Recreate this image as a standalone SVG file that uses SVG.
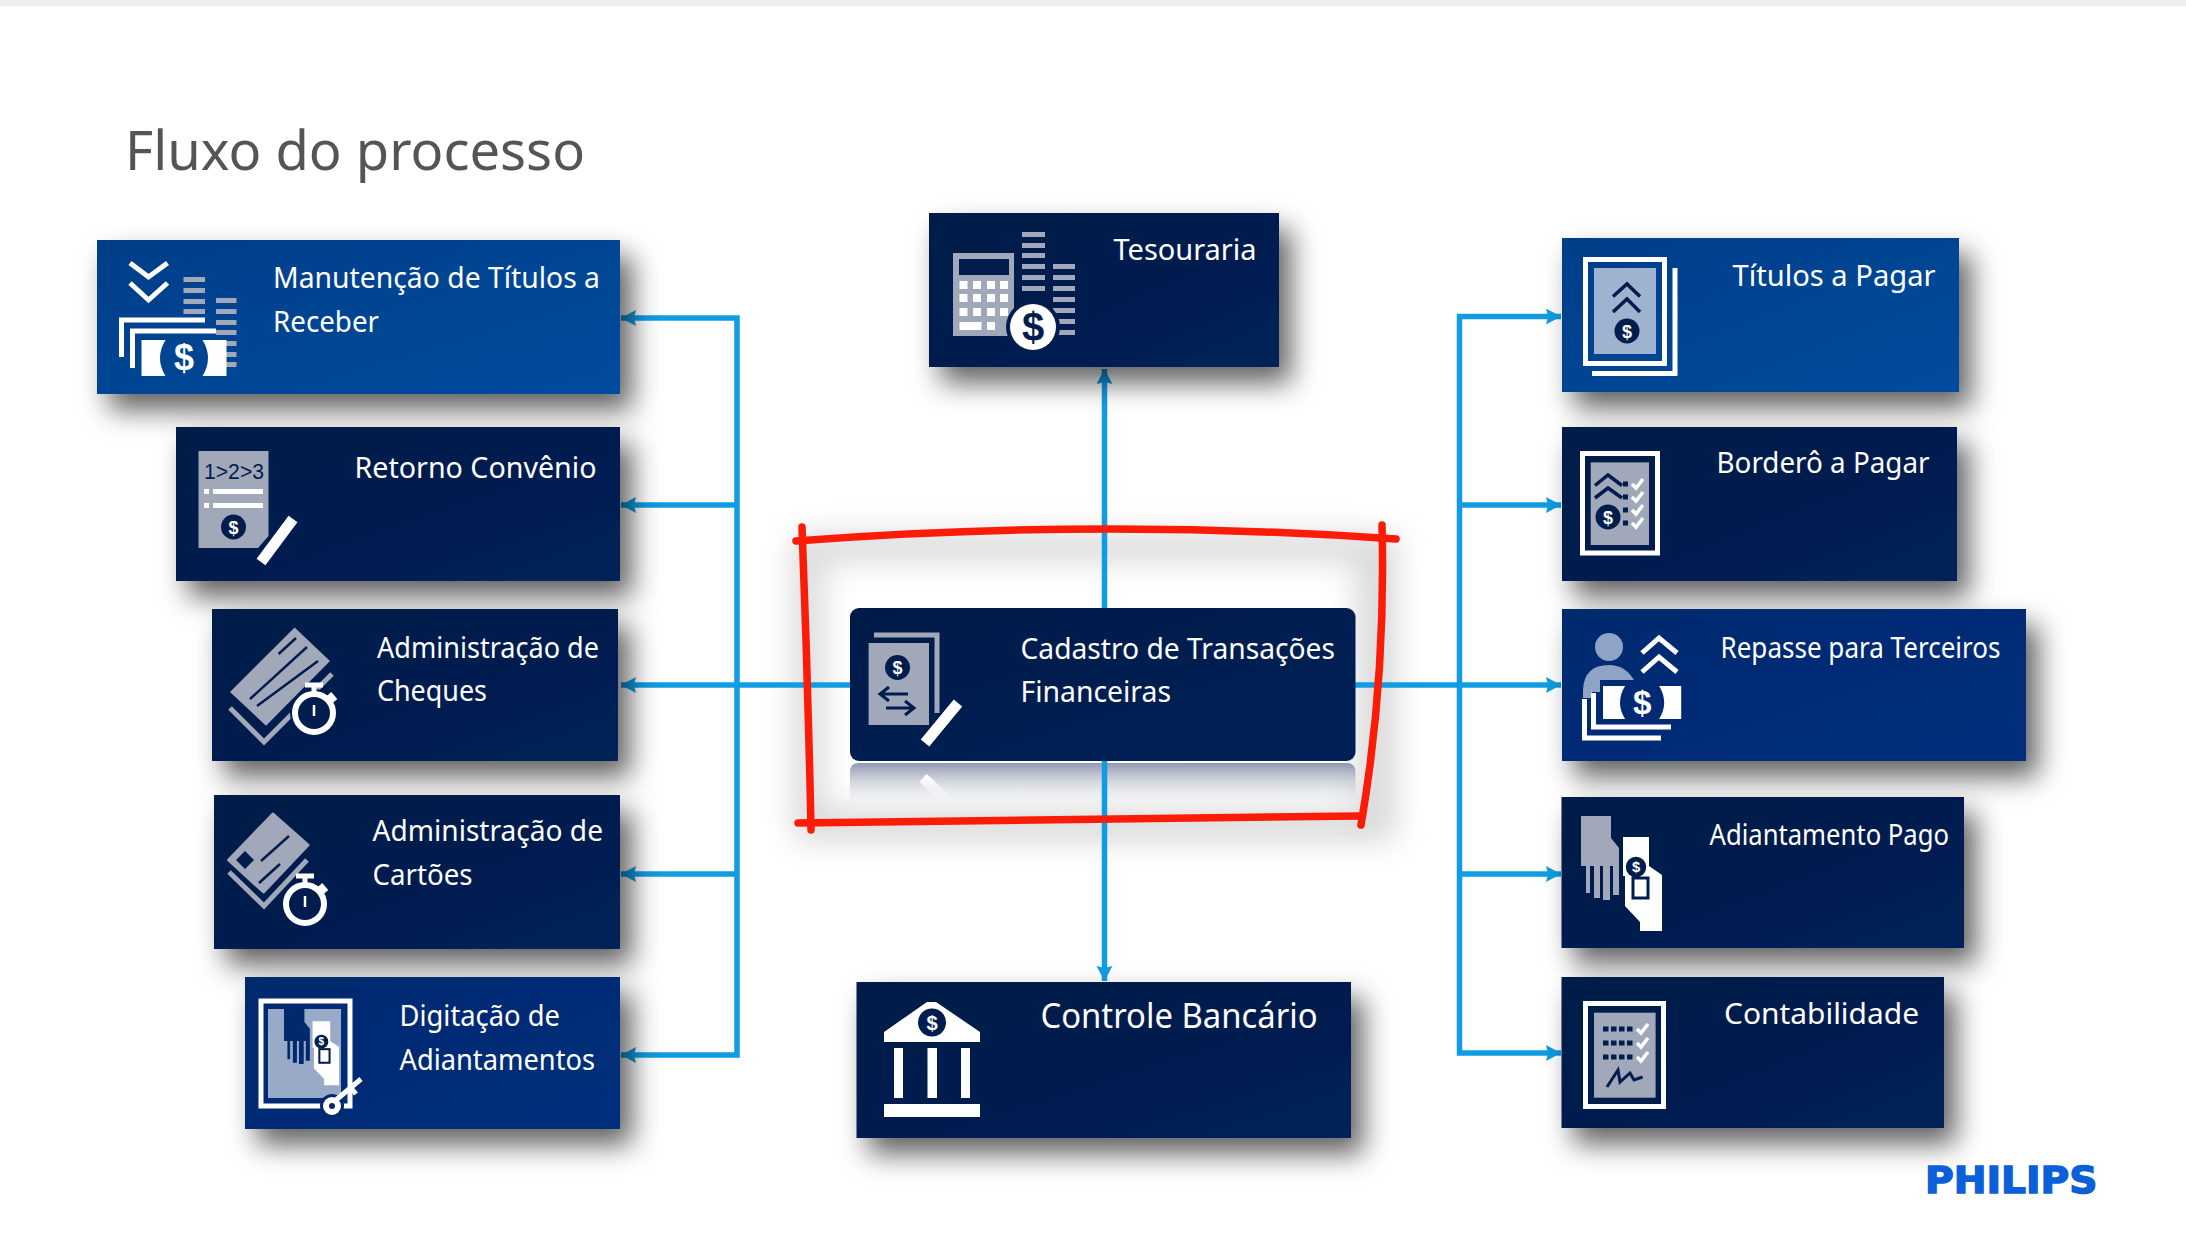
<svg xmlns="http://www.w3.org/2000/svg" xmlns:xlink="http://www.w3.org/1999/xlink" width="2186" height="1238" viewBox="0 0 2186 1238">
<style>
.t{font-family:"Noto Sans","Open Sans",sans-serif;font-size:29px;fill:#fff}
.d{font-family:"Liberation Sans",Arial,sans-serif;font-weight:700;text-anchor:middle}
.c{fill:none;stroke:#109ce2;stroke-width:5.5}
.wl{fill:none;stroke:#fff;stroke-width:5}
.dl{fill:none;stroke:#001d4d;stroke-width:3.5}
.g{fill:#a0a8ba}
.w{fill:#fff}
.k{fill:#001d4d}
.bar{fill:#a0a8ba}
</style>
<defs>
<linearGradient id="gd" x1="0" x2="1" y1="0" y2="1"><stop offset="0" stop-color="#001a47"/><stop offset="1" stop-color="#002158"/></linearGradient>
<linearGradient id="gb" x1="0" x2="1" y1="0" y2="1"><stop offset="0" stop-color="#003e88"/><stop offset="1" stop-color="#004c9e"/></linearGradient>
<linearGradient id="gm" x1="0" x2="1" y1="0" y2="1"><stop offset="0" stop-color="#00296e"/><stop offset="1" stop-color="#002f7c"/></linearGradient>
<linearGradient id="rf" x1="0" x2="0" y1="0" y2="1"><stop offset="0" stop-color="#8a93aa" stop-opacity=".95"/><stop offset="1" stop-color="#fff" stop-opacity="0"/></linearGradient>
<linearGradient id="rp" x1="0" x2="0" y1="0" y2="1"><stop offset="0" stop-color="#fff"/><stop offset="1" stop-color="#fff" stop-opacity="0"/></linearGradient>
<filter id="sh" x="-20%" y="-35%" width="150%" height="190%"><feDropShadow dx="12" dy="16" stdDeviation="14" flood-color="#000" flood-opacity=".62"/></filter>
<filter id="bl" x="-20%" y="-30%" width="140%" height="160%"><feGaussianBlur stdDeviation="16"/></filter>
<marker id="ah" markerUnits="userSpaceOnUse" markerWidth="18" markerHeight="18" refX="15" refY="8" orient="auto"><path d="M0 0L15 8L0 16L2 8Z" fill="#109ce2"/></marker>
<g id="coin"><circle r="12.5" fill="#001d4d"/><text class="d" y="6.500" font-size="18" fill="#fff">$</text></g>
<g id="bill"><path class="w" d="M0 0H24Q13 18 24 36H0ZM61 0Q72 18 61 36H85V0Z"/><text class="d" x="42.500" y="30" font-size="36" fill="#fff">$</text></g>
<g id="watch"><circle r="19" fill="none" stroke="#fff" stroke-width="6"/><path class="wl" d="M0 -21V-27M-9 -28H9"/><path d="M15 -19L21 -12" fill="none" stroke="#fff" stroke-width="6"/><path d="M0 -8V3" fill="none" stroke="#fff" stroke-width="2.500"/></g>
<g id="hands"><path d="M0 0H30V22L38 32V79H32V50H29V84H22V50H19V82H13V50H9V77H5V50H0Z"/><path class="w" d="M42 21H68V50L81 59V115H59V106L44 90V60H42Z"/><rect x="52" y="62" width="15" height="20" fill="none" stroke="#001d4d" stroke-width="3"/><use xlink:href="#coin" href="#coin" transform="translate(55 51) scale(.82)"/></g>
<path id="chk" d="M0 5L4 9L11 0" fill="none" stroke="#fff" stroke-width="3.500"/>
</defs>
<rect width="2186" height="1238" fill="#fff"/>
<rect width="2186" height="6" fill="#efefef"/>
<text id="title" x="125" y="170" textLength="460" lengthAdjust="spacingAndGlyphs" font-family="Noto Sans, Open Sans, sans-serif" font-size="54" fill="#555">Fluxo do processo</text>

<g id="highlight-glow"><rect x="795" y="535" width="600" height="305" fill="#d6d6d6" filter="url(#bl)"/><rect x="822" y="560" width="536" height="250" fill="#fff" filter="url(#bl)"/></g>

<g id="cadastro-reflection">
<rect x="850" y="763" width="505.500" height="50" rx="8" fill="url(#rf)"/>
<path d="M923 778L947 800" fill="none" stroke="url(#rp)" stroke-width="11"/>
</g>

<g id="connectors">
<path class="c" marker-end="url(#ah)" d="M850 685H621"/>
<path class="c" marker-end="url(#ah)" d="M737 685V318H621"/>
<path class="c" marker-end="url(#ah)" d="M737 505H621"/>
<path class="c" marker-end="url(#ah)" d="M737 874H621"/>
<path class="c" marker-end="url(#ah)" d="M737 685V1055H621"/>
<path class="c" marker-end="url(#ah)" d="M1104.500 608V369"/>
<path class="c" marker-end="url(#ah)" d="M1104.500 761V981"/>
<path class="c" marker-end="url(#ah)" d="M1355 685H1561"/>
<path class="c" marker-end="url(#ah)" d="M1459.500 685V316.500H1561"/>
<path class="c" marker-end="url(#ah)" d="M1459.500 505H1561"/>
<path class="c" marker-end="url(#ah)" d="M1459.500 874H1561"/>
<path class="c" marker-end="url(#ah)" d="M1459.500 685V1053H1561"/>
</g>

<g id="node-manutencao">
<rect x="97" y="240" width="523" height="154" fill="url(#gb)" filter="url(#sh)"/>
<path class="wl" d="M130 263L148.500 277L167.500 263M130 283L148.500 300L167.500 283"/>
<g class="bar"><rect x="183.500" y="277" width="21.500" height="5"/><rect x="183.500" y="288" width="21.500" height="5"/><rect x="183.500" y="299" width="21.500" height="5"/><rect x="183.500" y="309" width="21.500" height="5"/><rect x="216" y="298" width="20.500" height="5"/><rect x="216" y="309" width="20.500" height="5"/><rect x="216" y="320" width="20.500" height="5"/><rect x="216" y="330" width="20.500" height="5"/><rect x="216" y="341" width="20.500" height="5"/><rect x="216" y="352" width="20.500" height="5"/><rect x="216" y="362" width="20.500" height="5"/></g>
<path class="wl" d="M121.500 357V320H205M132.500 368V331H216"/>
<use xlink:href="#bill" href="#bill" x="141.500" y="340"/>
<text class="t" x="273" y="288" textLength="327" lengthAdjust="spacingAndGlyphs">Manutenção de Títulos a</text>
<text class="t" x="273" y="332" textLength="106" lengthAdjust="spacingAndGlyphs">Receber</text>
</g>

<g id="node-retorno">
<rect x="176" y="427" width="444" height="154" fill="url(#gd)" filter="url(#sh)"/>
<path class="g" d="M198.500 451H268.500V536L258 548H198.500Z"/>
<text x="234" y="479" text-anchor="middle" textLength="60" lengthAdjust="spacingAndGlyphs" font-family="Liberation Sans, sans-serif" font-size="22" fill="#001d4d">1&gt;2&gt;3</text>
<rect class="w" x="204" y="489" width="5" height="5"/><rect class="w" x="213" y="489" width="50" height="5"/><rect class="w" x="204" y="503" width="5" height="5"/><rect class="w" x="213" y="503" width="50" height="5"/>
<use xlink:href="#coin" href="#coin" x="233.500" y="527"/>
<path d="M293 519L261 562" fill="none" stroke="#fff" stroke-width="11"/>
<text class="t" x="354.500" y="478" textLength="242" lengthAdjust="spacingAndGlyphs">Retorno Convênio</text>
</g>

<g id="node-cheques">
<rect x="212" y="609" width="406" height="152" fill="url(#gd)" filter="url(#sh)"/>
<path d="M230 708L264 742L332 674" fill="none" stroke="#a0a8ba" stroke-width="5"/>
<path class="g" d="M294.600 627.500L330 661L266 725.700L230 692Z"/>
<path class="dl" style="stroke-width:2.500px" d="M278.600 654L296 638M250 699L307 647M257 706L318 661"/>
<circle cx="314" cy="713" r="24" fill="#001d4d"/>
<use xlink:href="#watch" href="#watch" x="314" y="713"/>
<text class="t" x="377" y="658" textLength="222" lengthAdjust="spacingAndGlyphs">Administração de</text>
<text class="t" x="377" y="701" textLength="110" lengthAdjust="spacingAndGlyphs">Cheques</text>
</g>

<g id="node-cartoes">
<rect x="214" y="795" width="406" height="154" fill="url(#gd)" filter="url(#sh)"/>
<path d="M229 872L264 906L307 860" fill="none" stroke="#a0a8ba" stroke-width="5"/>
<path class="g" d="M273 814L308 845L263.500 892L228.600 860Z" stroke="#a0a8ba" stroke-width="3" stroke-linejoin="round"/>
<path class="k" d="M245 851L254 860L245 869L236 860Z"/>
<path class="dl" style="stroke-width:2.500px" d="M261 861L289 836M259 883L280 864"/>
<circle cx="305" cy="904" r="25" fill="#001d4d"/>
<use xlink:href="#watch" href="#watch" x="305" y="904"/>
<text class="t" x="372.500" y="841" textLength="230.500" lengthAdjust="spacingAndGlyphs">Administração de</text>
<text class="t" x="372.500" y="885" textLength="100" lengthAdjust="spacingAndGlyphs">Cartões</text>
</g>

<g id="node-digitacao">
<rect x="245" y="977" width="375" height="152" fill="url(#gm)" filter="url(#sh)"/>
<rect x="261" y="1001" width="89" height="105" fill="none" stroke="#fff" stroke-width="5"/>
<rect x="268" y="1009" width="73" height="89" fill="#99a9c8"/>
<use xlink:href="#hands" href="#hands" transform="translate(284 1007) scale(.68)" fill="#00296e"/>
<circle cx="332" cy="1106" r="12" fill="#00296e"/>
<circle class="w" cx="332" cy="1106" r="9"/><circle cx="332" cy="1106" r="3" fill="#00296e"/>
<path d="M336 1100L361 1079M351 1088L356 1094" fill="none" stroke="#fff" stroke-width="5"/>
<text class="t" x="399.500" y="1026" textLength="160.500" lengthAdjust="spacingAndGlyphs">Digitação de</text>
<text class="t" x="399.500" y="1070" textLength="195.500" lengthAdjust="spacingAndGlyphs">Adiantamentos</text>
</g>

<g id="node-tesouraria">
<rect x="929" y="213" width="350" height="154" fill="url(#gd)" filter="url(#sh)"/>
<g class="bar"><rect x="1022" y="232" width="23" height="5"/><rect x="1022" y="243" width="23" height="5"/><rect x="1022" y="253" width="23" height="5"/><rect x="1022" y="264" width="23" height="5"/><rect x="1022" y="275" width="23" height="5"/><rect x="1022" y="286" width="23" height="5"/><rect x="1053" y="264" width="22" height="5"/><rect x="1053" y="275" width="22" height="5"/><rect x="1053" y="286" width="22" height="5"/><rect x="1053" y="297" width="22" height="5"/><rect x="1053" y="308" width="22" height="5"/><rect x="1053" y="319" width="22" height="5"/><rect x="1053" y="330" width="22" height="5"/></g>
<rect class="g" x="953" y="253" width="61" height="83"/>
<rect class="k" x="959" y="259" width="50" height="16"/>
<g class="w"><rect x="959.500" y="281" width="8" height="8"/><rect x="973" y="281" width="8" height="8"/><rect x="987" y="281" width="8" height="8"/><rect x="1000" y="281" width="8" height="8"/><rect x="959.500" y="294" width="8" height="8"/><rect x="973" y="294" width="8" height="8"/><rect x="987" y="294" width="8" height="8"/><rect x="1000" y="294" width="8" height="8"/><rect x="959.500" y="308" width="8" height="8"/><rect x="973" y="308" width="8" height="8"/><rect x="987" y="308" width="8" height="8"/><rect x="1000" y="308" width="8" height="8"/><rect x="959.500" y="322" width="22" height="8"/><rect x="987" y="322" width="8" height="8"/></g>
<circle cx="1033" cy="327" r="27" fill="#001d4d"/><circle class="w" cx="1033" cy="327" r="23"/>
<text class="d" x="1033" y="341" font-size="40" fill="#001d4d">$</text>
<text class="t" x="1113.500" y="260" textLength="143" lengthAdjust="spacingAndGlyphs">Tesouraria</text>
</g>

<g id="node-cadastro">
<rect x="850" y="608" width="505.500" height="153" rx="9" fill="url(#gd)"/>
<path d="M874 635H937V713" fill="none" stroke="#a0a8ba" stroke-width="5"/>
<rect class="g" x="868.600" y="643" width="60.400" height="82"/>
<use xlink:href="#coin" href="#coin" x="897.500" y="667.500"/>
<path d="M889 687L880 694L889 701M880 694H908M905 701L914 708L905 715M886 708H914" fill="none" stroke="#001d4d" stroke-width="3"/>
<path d="M958 703L925 743" fill="none" stroke="#fff" stroke-width="11"/>
<text class="t" x="1020.500" y="659" textLength="314.500" lengthAdjust="spacingAndGlyphs">Cadastro de Transações</text>
<text class="t" x="1020.500" y="702" textLength="150.500" lengthAdjust="spacingAndGlyphs">Financeiras</text>
</g>

<g id="node-controle">
<rect x="856.500" y="982" width="494.500" height="156" fill="url(#gd)" filter="url(#sh)"/>
<path class="w" d="M884 1032L927 1002H936L980 1032V1042H884Z"/>
<use xlink:href="#coin" href="#coin" transform="translate(932 1022.500) scale(1.12)"/>
<rect class="w" x="894" y="1048" width="9" height="50"/><rect class="w" x="927.500" y="1048" width="9.500" height="50"/><rect class="w" x="961" y="1048" width="9" height="50"/><rect class="w" x="884" y="1104" width="96" height="13"/>
<text class="t" x="1040.500" y="1028" style="font-size:34px" textLength="277" lengthAdjust="spacingAndGlyphs">Controle Bancário</text>
</g>

<g id="node-titulos">
<rect x="1562" y="238" width="397" height="154" fill="url(#gb)" filter="url(#sh)"/>
<rect x="1585.500" y="259.500" width="79" height="104" fill="none" stroke="#fff" stroke-width="5"/>
<rect x="1594" y="268" width="62" height="86" fill="#9fb3d1"/>
<path class="wl" d="M1592 373.500H1675V268"/>
<path class="dl" d="M1613 296.500L1627 284L1640 296.500M1613 312L1627 299L1640 312"/>
<use xlink:href="#coin" href="#coin" x="1627" y="331"/>
<text class="t" x="1732.500" y="285.500" textLength="203" lengthAdjust="spacingAndGlyphs">Títulos a Pagar</text>
</g>

<g id="node-bordero">
<rect x="1562" y="427" width="395" height="154" fill="url(#gd)" filter="url(#sh)"/>
<rect x="1582.500" y="453.500" width="75" height="99.500" fill="none" stroke="#fff" stroke-width="5"/>
<rect class="g" x="1590.700" y="462.400" width="58.300" height="82.600"/>
<path class="dl" d="M1595 485.500L1608 475L1622 485.500M1595 498L1608 488L1622 498"/>
<use xlink:href="#coin" href="#coin" x="1608" y="517"/>
<g class="k"><rect x="1623" y="481.500" width="5" height="5"/><rect x="1623" y="494.500" width="5" height="5"/><rect x="1623" y="507.500" width="5" height="5"/><rect x="1623" y="520.500" width="5" height="5"/></g>
<use xlink:href="#chk" href="#chk" x="1632" y="479"/><use xlink:href="#chk" href="#chk" x="1632" y="492"/><use xlink:href="#chk" href="#chk" x="1632" y="505"/><use xlink:href="#chk" href="#chk" x="1632" y="518"/>
<text class="t" x="1716.500" y="473" textLength="213" lengthAdjust="spacingAndGlyphs">Borderô a Pagar</text>
</g>

<g id="node-repasse">
<rect x="1562" y="609" width="464" height="152" fill="url(#gm)" filter="url(#sh)"/>
<circle cx="1609" cy="647" r="14" fill="#8ea3c5"/>
<path fill="#8ea3c5" d="M1583 698V690Q1584 665 1609 665Q1625 665 1634 680H1600V692H1592V698Z"/>
<path class="wl" d="M1642 653L1659 638L1677 653M1642 672L1659 657L1677 672"/>
<path class="wl" d="M1593.500 693V727H1671M1584.500 699V738H1661"/>
<use xlink:href="#bill" href="#bill" transform="translate(1603 686) scale(.92)"/>
<text class="t" x="1720.500" y="657.500" textLength="280" lengthAdjust="spacingAndGlyphs">Repasse para Terceiros</text>
</g>

<g id="node-adiantamento">
<rect x="1561.500" y="797" width="402.500" height="151" fill="url(#gd)" filter="url(#sh)"/>
<use xlink:href="#hands" href="#hands" x="1581" y="816" fill="#a0a8ba"/>
<text class="t" x="1709.500" y="845" textLength="239.500" lengthAdjust="spacingAndGlyphs">Adiantamento Pago</text>
</g>

<g id="node-contabilidade">
<rect x="1561.500" y="977" width="382.500" height="151" fill="url(#gd)" filter="url(#sh)"/>
<rect x="1585.500" y="1003.500" width="78" height="103" fill="none" stroke="#fff" stroke-width="5"/>
<rect class="g" x="1594" y="1012.700" width="61.600" height="85"/>
<path d="M1603 1029H1634M1603 1043H1634M1603 1057H1634" fill="none" stroke="#001d4d" stroke-width="5" stroke-dasharray="5.500 2.500"/>
<use xlink:href="#chk" href="#chk" x="1637" y="1024"/><use xlink:href="#chk" href="#chk" x="1637" y="1038"/><use xlink:href="#chk" href="#chk" x="1637" y="1052"/>
<path d="M1607 1087L1618 1070L1620 1082L1630 1073L1634 1080L1642.600 1077" fill="none" stroke="#001d4d" stroke-width="3"/>
<text class="t" x="1724" y="1024" textLength="195" lengthAdjust="spacingAndGlyphs">Contabilidade</text>
</g>

<g id="highlight" fill="none" stroke="#fb1c07" stroke-width="7.500" stroke-linecap="round">
<path d="M796 541Q1100 518 1396 539"/>
<path d="M802 527Q808 680 811 830"/>
<path d="M798 823Q1080 820 1360 816"/>
<path d="M1382 525Q1386 680 1361 825"/>
</g>

<text id="logo" x="1925" y="1193" textLength="172.500" lengthAdjust="spacingAndGlyphs" font-family="DejaVu Sans, sans-serif" font-weight="700" font-size="38" fill="#0b5fd8" stroke="#0b5fd8" stroke-width="1.500">PHILIPS</text>
</svg>
